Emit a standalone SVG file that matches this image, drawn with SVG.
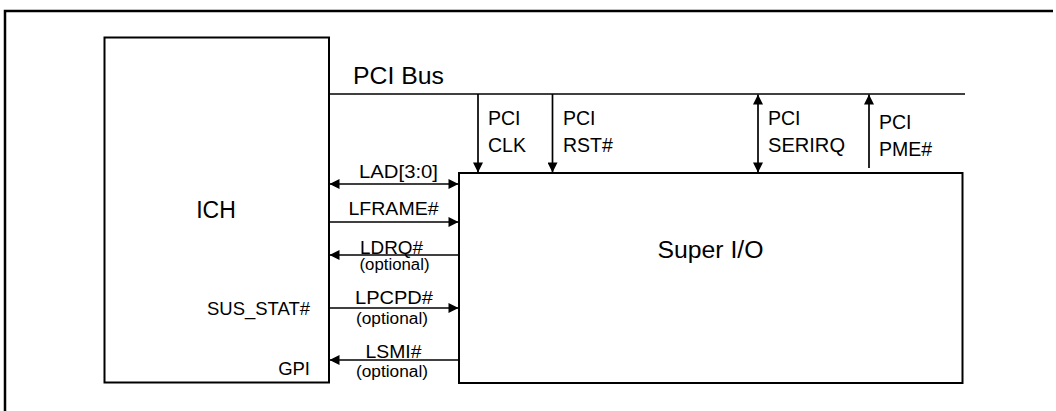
<svg xmlns="http://www.w3.org/2000/svg" width="1056" height="411" viewBox="0 0 1056 411">
<style>
text{font-family:"Liberation Sans",Arial,sans-serif;fill:#000}
.big{font-size:23px}
.sig{font-size:18.5px}
.pci{font-size:19.5px}
.opt{font-size:16px}
.box{fill:#fff;stroke:#000;stroke-width:2}
.w{stroke:#000;stroke-width:1.7;fill:none}
.mid{text-anchor:middle}
.end{text-anchor:end}
</style>
<defs>
<marker id="ah" viewBox="0 0 10 10" refX="10" refY="5" markerUnits="userSpaceOnUse" markerWidth="11" markerHeight="10" orient="auto-start-reverse">
<path d="M0,0 L10,5 L0,10 z" fill="#000"/>
</marker>
</defs>
<rect width="1056" height="411" fill="#fff"/>
<g id="frame">
<path d="M5,411 V11 H1053" fill="none" stroke="#000" stroke-width="2.5"/>
</g>
<g id="ich">
<rect class="box" x="104.5" y="37.5" width="224.5" height="345"/>
<text class="big mid" x="216" y="218" font-size="24">ICH</text>
<text class="sig end" x="310" y="315" textLength="103" lengthAdjust="spacingAndGlyphs">SUS_STAT#</text>
<text class="sig end" x="310" y="375">GPI</text>
</g>
<g id="superio">
<rect class="box" x="459" y="173" width="503.5" height="210"/>
<text class="big mid" x="710.5" y="258" textLength="106" lengthAdjust="spacingAndGlyphs">Super I/O</text>
</g>
<g id="pcibus">
<line class="w" x1="329" y1="94" x2="965" y2="94"/>
<text class="big" x="353" y="84" textLength="91" lengthAdjust="spacingAndGlyphs">PCI Bus</text>
</g>
<g id="connectors">
<line class="w" x1="478" y1="94" x2="478" y2="172.5" marker-end="url(#ah)"/>
<line class="w" x1="552.5" y1="94" x2="552.5" y2="172.5" marker-end="url(#ah)"/>
<line class="w" x1="758" y1="94.5" x2="758" y2="172.5" marker-start="url(#ah)" marker-end="url(#ah)"/>
<line class="w" x1="869" y1="168" x2="869" y2="94.5" marker-end="url(#ah)"/>
<line class="w" x1="329.5" y1="184" x2="458.5" y2="184" marker-start="url(#ah)" marker-end="url(#ah)"/>
<line class="w" x1="329" y1="222" x2="458.5" y2="222" marker-end="url(#ah)"/>
<line class="w" x1="459" y1="255" x2="329.5" y2="255" marker-end="url(#ah)"/>
<line class="w" x1="329" y1="308" x2="458.5" y2="308" marker-end="url(#ah)"/>
<line class="w" x1="459" y1="360" x2="329.5" y2="360" marker-end="url(#ah)"/>
</g>
<g id="labels">
<text class="pci" x="488" y="125">PCI</text>
<text class="pci" x="488" y="151.5">CLK</text>
<text class="pci" x="563" y="125">PCI</text>
<text class="pci" x="563" y="151.5">RST#</text>
<text class="pci" x="768" y="125">PCI</text>
<text class="pci" x="768" y="151.5" textLength="77" lengthAdjust="spacingAndGlyphs">SERIRQ</text>
<text class="pci" x="879" y="128.5">PCI</text>
<text class="pci" x="879" y="155.5">PME#</text>
<text class="sig mid" x="398.5" y="178" textLength="79" lengthAdjust="spacingAndGlyphs">LAD[3:0]</text>
<text class="sig mid" x="393.5" y="215" textLength="90" lengthAdjust="spacingAndGlyphs">LFRAME#</text>
<text class="sig mid" x="391.5" y="253.5" textLength="63" lengthAdjust="spacingAndGlyphs">LDRQ#</text>
<text class="opt mid" x="394.5" y="269.5" textLength="70" lengthAdjust="spacingAndGlyphs">(optional)</text>
<text class="sig mid" x="394" y="303.5" textLength="78" lengthAdjust="spacingAndGlyphs">LPCPD#</text>
<text class="opt mid" x="392" y="323.5" textLength="72" lengthAdjust="spacingAndGlyphs">(optional)</text>
<text class="sig mid" x="393.5" y="358" textLength="56" lengthAdjust="spacingAndGlyphs">LSMI#</text>
<text class="opt mid" x="392" y="377" textLength="72" lengthAdjust="spacingAndGlyphs">(optional)</text>
</g>
</svg>
